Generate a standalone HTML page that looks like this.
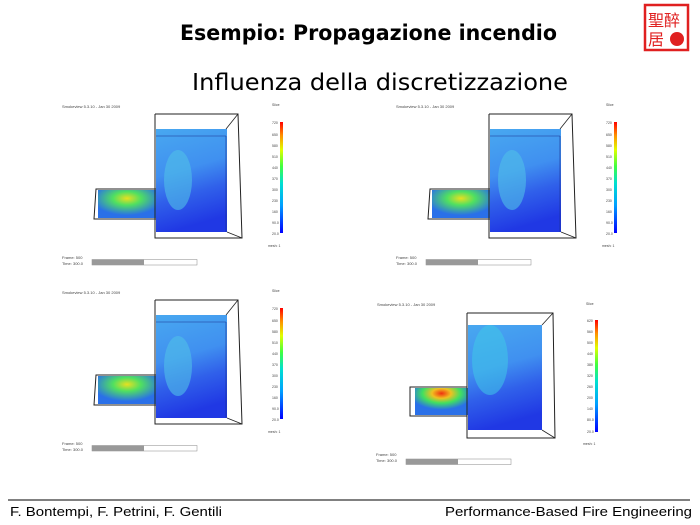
<!DOCTYPE html>
<html><head><meta charset="utf-8"><style>
html,body{margin:0;padding:0;background:#fff}
svg{display:block}
</style></head><body>
<svg width="700" height="525" viewBox="0 0 700 525" xmlns="http://www.w3.org/2000/svg" font-family="Liberation Sans, sans-serif">
<defs>
<linearGradient id="cb" x1="0" y1="1" x2="0" y2="0">
<stop offset="0" stop-color="#0000ff"/><stop offset="0.25" stop-color="#00a0ff"/><stop offset="0.45" stop-color="#00e0d0"/><stop offset="0.6" stop-color="#40ff40"/><stop offset="0.75" stop-color="#e0ff00"/><stop offset="0.88" stop-color="#ff9000"/><stop offset="1" stop-color="#ff0000"/>
</linearGradient>
<linearGradient id="room" x1="0" y1="0" x2="0.2" y2="1">
<stop offset="0" stop-color="#48a8f0"/><stop offset="0.45" stop-color="#4090f0"/><stop offset="0.7" stop-color="#3060ea"/><stop offset="1" stop-color="#2038e4"/>
</linearGradient>
<radialGradient id="hot" cx="0.5" cy="0.3" r="0.6">
<stop offset="0" stop-color="#e8e020"/><stop offset="0.4" stop-color="#50e060"/><stop offset="1" stop-color="#2a70e8"/>
</radialGradient>
<radialGradient id="hot2" cx="0.5" cy="0.2" r="0.6">
<stop offset="0" stop-color="#f03010"/><stop offset="0.3" stop-color="#f0c020"/><stop offset="0.6" stop-color="#40e060"/><stop offset="1" stop-color="#2a70e8"/>
</radialGradient>
<g id="panel">
<text x="62" y="108" font-size="4" fill="#444">Smokeview 5.3.10 - Jan 30 2009</text>
<rect x="156" y="129" width="71" height="103" fill="url(#room)"/>
<ellipse cx="178" cy="180" rx="14" ry="30" fill="#50c0e8" opacity="0.6"/>
<rect x="98" y="190" width="58" height="28" fill="url(#hot)"/>
<polyline points="155,114 238,114 242,238 155,238 155,114" fill="none" stroke="#222" stroke-width="1"/>
<line x1="226" y1="129" x2="238" y2="114" stroke="#222" stroke-width="0.8"/>
<line x1="227" y1="232" x2="242" y2="238" stroke="#222" stroke-width="0.8"/>
<line x1="156" y1="136" x2="226" y2="136" stroke="#1a3090" stroke-width="0.6"/>
<line x1="226" y1="136" x2="226" y2="232" stroke="#1a3090" stroke-width="0.6"/>
<polyline points="156,189 96,189 94,219 156,219" fill="none" stroke="#222" stroke-width="1"/>
<text x="272" y="106" font-size="3.5" fill="#444">Slice</text>
<rect x="280" y="122" width="3" height="111" fill="url(#cb)"/>
<g font-size="3.5" fill="#444">
<text x="272" y="124">720</text><text x="272" y="136">650</text><text x="272" y="147">580</text><text x="272" y="158">510</text><text x="272" y="169">440</text><text x="272" y="180">370</text><text x="272" y="191">300</text><text x="272" y="202">230</text><text x="272" y="213">160</text><text x="272" y="224">90.0</text><text x="272" y="235">20.0</text>
<text x="268" y="247">mesh: 1</text>
</g>
<text x="62" y="259" font-size="4" fill="#444">Frame: 500</text>
<text x="62" y="265" font-size="4" fill="#444">Time: 300.0</text>
<rect x="92" y="259.5" width="105" height="5.5" fill="#fff" stroke="#888" stroke-width="0.5"/>
<rect x="92" y="259.5" width="52" height="5.5" fill="#999"/>
</g>
</defs>

<text x="180" y="40" font-size="21" font-weight="bold" fill="#000" font-family="DejaVu Sans, sans-serif" textLength="377" lengthAdjust="spacingAndGlyphs">Esempio: Propagazione incendio</text>
<text x="192" y="90" font-size="23" fill="#000" font-family="DejaVu Sans, sans-serif" textLength="376" lengthAdjust="spacingAndGlyphs">Influenza della discretizzazione</text>

<g transform="translate(645,5)">
<rect x="0" y="0" width="43" height="45" fill="none" stroke="#e02020" stroke-width="2.5"/>
<text x="3" y="21" font-size="16" fill="#e02020" font-family="Noto Sans CJK SC, sans-serif">聖醉</text>
<text x="3" y="40" font-size="16" fill="#e02020" font-family="Noto Sans CJK SC, sans-serif">居</text>
<circle cx="32" cy="34" r="7" fill="#e02020"/>
</g>

<use href="#panel"/>
<use href="#panel" transform="translate(334,0)"/>
<use href="#panel" transform="translate(0,186)"/>

<g>
<text x="377" y="306" font-size="4" fill="#444">Smokeview 5.3.10 - Jan 30 2009</text>
<rect x="468" y="325" width="74" height="105" fill="url(#room)"/>
<ellipse cx="490" cy="360" rx="18" ry="35" fill="#40c8e8" opacity="0.55"/>
<rect x="415" y="388" width="53" height="27" fill="url(#hot2)"/>
<polyline points="467,313 553,313 555,438 467,438 467,313" fill="none" stroke="#222" stroke-width="1"/>
<line x1="542" y1="325" x2="553" y2="313" stroke="#222" stroke-width="0.8"/>
<line x1="542" y1="430" x2="555" y2="438" stroke="#222" stroke-width="0.8"/>
<polyline points="467,387 410,387 410,416 467,416" fill="none" stroke="#222" stroke-width="1"/>
<text x="586" y="305" font-size="3.5" fill="#444">Slice</text>
<rect x="595" y="320" width="3" height="112" fill="url(#cb)"/>
<g font-size="3.5" fill="#444">
<text x="587" y="322">620</text><text x="587" y="333">560</text><text x="587" y="344">500</text><text x="587" y="355">440</text><text x="587" y="366">380</text><text x="587" y="377">320</text><text x="587" y="388">260</text><text x="587" y="399">200</text><text x="587" y="410">140</text><text x="587" y="421">80.0</text><text x="587" y="433">20.0</text>
<text x="583" y="445">mesh: 1</text>
</g>
<text x="376" y="456" font-size="4" fill="#444">Frame: 500</text>
<text x="376" y="462" font-size="4" fill="#444">Time: 300.0</text>
<rect x="406" y="459" width="105" height="5.5" fill="#fff" stroke="#888" stroke-width="0.5"/>
<rect x="406" y="459" width="52" height="5.5" fill="#999"/>
</g>

<line x1="8" y1="500" x2="690" y2="500" stroke="#000" stroke-width="1"/>
<text x="10" y="516" font-size="13" fill="#000" textLength="212" lengthAdjust="spacingAndGlyphs">F. Bontempi, F. Petrini, F. Gentili</text>
<text x="445" y="516" font-size="13" fill="#000" textLength="247" lengthAdjust="spacingAndGlyphs">Performance-Based Fire Engineering</text>
</svg>
</body></html>
